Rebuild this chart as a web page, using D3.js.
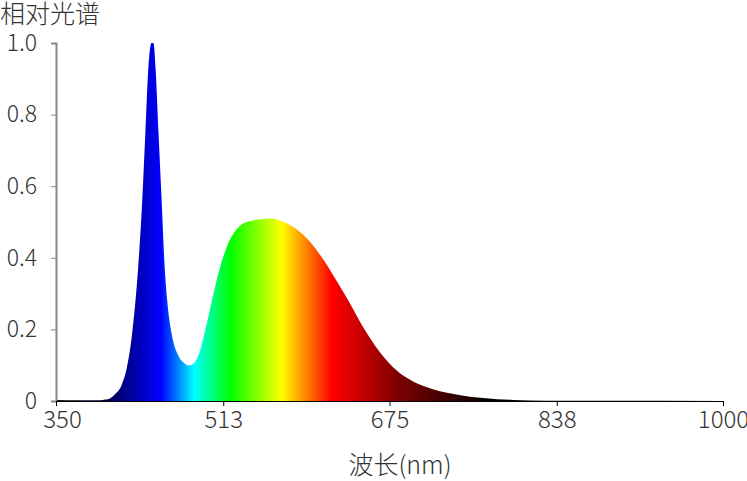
<!DOCTYPE html>
<html>
<head>
<meta charset="utf-8">
<script src="https://cdn.jsdelivr.net/npm/d3@7/dist/d3.min.js"></script>
<style>
  body { margin: 0; background: #fff; }
  svg { display: block; }
  text { font-family: "Noto Sans CJK SC", "Noto Sans", sans-serif; fill: #333; }
</style>
</head>
<body>
<div id="chart"></div>
<script>
// spectrum samples (nm, relative intensity)
const wavelengths = [350, 373, 393, 398, 403, 408, 414, 419, 424, 430, 434, 437, 440, 443, 445, 447, 450, 453, 456, 458.5, 463, 469, 474, 478.5, 481, 489, 490.5, 497, 503.5, 510, 516.5, 523, 532.5, 545.5, 558.5, 571.5, 584.5, 597.5, 610.5, 623.5, 636.5, 649.5, 666, 682, 698.5, 715, 731, 747, 763.5, 780, 795.5, 828, 880, 1000];
const intensity =   [0.003, 0.002, 0.002, 0.004, 0.008, 0.02, 0.045, 0.092, 0.184, 0.37, 0.557, 0.743, 0.93, 1.0, 1.0, 0.93, 0.743, 0.557, 0.37, 0.277, 0.184, 0.128, 0.108, 0.1, 0.1, 0.13, 0.142, 0.217, 0.30, 0.375, 0.431, 0.468, 0.496, 0.506, 0.51, 0.501, 0.48, 0.445, 0.395, 0.335, 0.272, 0.205, 0.135, 0.085, 0.054, 0.035, 0.023, 0.015, 0.009, 0.005, 0.003, 0.001, 0.0005, 0];

// colour of the fill along the wavelength axis
const stopWavelengths = [350, 395, 414, 433, 452, 485, 520, 570, 588, 619, 682, 773, 1000];
const stopColors = ["#000000", "#000030", "#000080", "#0000c0", "#0000ff", "#00ffff", "#00ff00", "#ffff00", "#ffa000", "#ff0000", "#800000", "#000000", "#000000"];

const xTicks = [350, 513, 675, 838, 1000];
const yTicks = [0, 0.2, 0.4, 0.6, 0.8, 1.0];

const width = 747;
const height = 481;
const margin = { top: 43, right: 24, bottom: 80, left: 56 };

const svg = d3
  .select("#chart")
  .append("svg")
  .attr("width", width)
  .attr("height", height);

const x = d3
  .scaleLinear()
  .domain([350, 1000])
  .range([margin.left, width - margin.right]);

const y = d3
  .scaleLinear()
  .domain([0, 1])
  .range([height - margin.bottom, margin.top]);

const data = wavelengths.map((w, i) => ({ w: w, v: intensity[i] }));

// gradient in user space so offsets follow wavelength
const grad = svg
  .append("defs")
  .append("linearGradient")
  .attr("id", "spectrum")
  .attr("gradientUnits", "userSpaceOnUse")
  .attr("x1", x(350))
  .attr("x2", x(1000))
  .attr("y1", 0)
  .attr("y2", 0);

grad
  .selectAll("stop")
  .data(stopWavelengths)
  .join("stop")
  .attr("offset", d => (d - 350) / 650)
  .attr("stop-color", (d, i) => stopColors[i]);

const area = d3
  .area()
  .x(d => x(d.w))
  .y0(y(0))
  .y1(d => y(d.v))
  .curve(d3.curveMonotoneX);

svg
  .append("path")
  .datum(data)
  .attr("fill", "url(#spectrum)")
  .attr("d", area);

/* Axes */
const xAxis = svg
  .append("g")
  .attr("transform", `translate(0,${y(0)})`)
  .call(
    d3.axisBottom(x)
      .tickValues(xTicks)
      .tickSize(5)
      .tickPadding(5)
      .tickFormat(d3.format("d"))
  );
xAxis.select(".domain").attr("stroke", "#000");
xAxis.selectAll(".tick line").attr("stroke", "#000");
xAxis
  .selectAll(".tick text")
  .attr("fill", "#333")
  .style("font-size", "24px")
  .style("font-weight", 300)
  .attr("dx", d => (d === 350 ? 6 : 0));

const yAxis = svg
  .append("g")
  .attr("transform", `translate(${margin.left},0)`)
  .call(
    d3.axisLeft(y)
      .tickValues(yTicks)
      .tickSize(5)
      .tickPadding(14)
      .tickFormat(d => (d === 0 ? "0" : d3.format(".1f")(d)))
  );
yAxis.select(".domain").attr("stroke", "#888").attr("stroke-width", 2);
yAxis.selectAll(".tick line").attr("stroke", "#888");
yAxis
  .selectAll(".tick text")
  .attr("fill", "#333")
  .style("font-size", "23px")
  .style("font-weight", 300);

// x axis drawn over y axis bottom
xAxis.raise();

svg
  .append("text")
  .attr("x", 0)
  .attr("y", 23)
  .style("font-size", "25px")
  .style("font-weight", 300)
  .text("相对光谱");

svg
  .append("text")
  .attr("x", 400)
  .attr("y", 474)
  .attr("text-anchor", "middle")
  .style("font-size", "25px")
  .style("font-weight", 300)
  .text("波长(nm)");
</script>
</body>
</html>
